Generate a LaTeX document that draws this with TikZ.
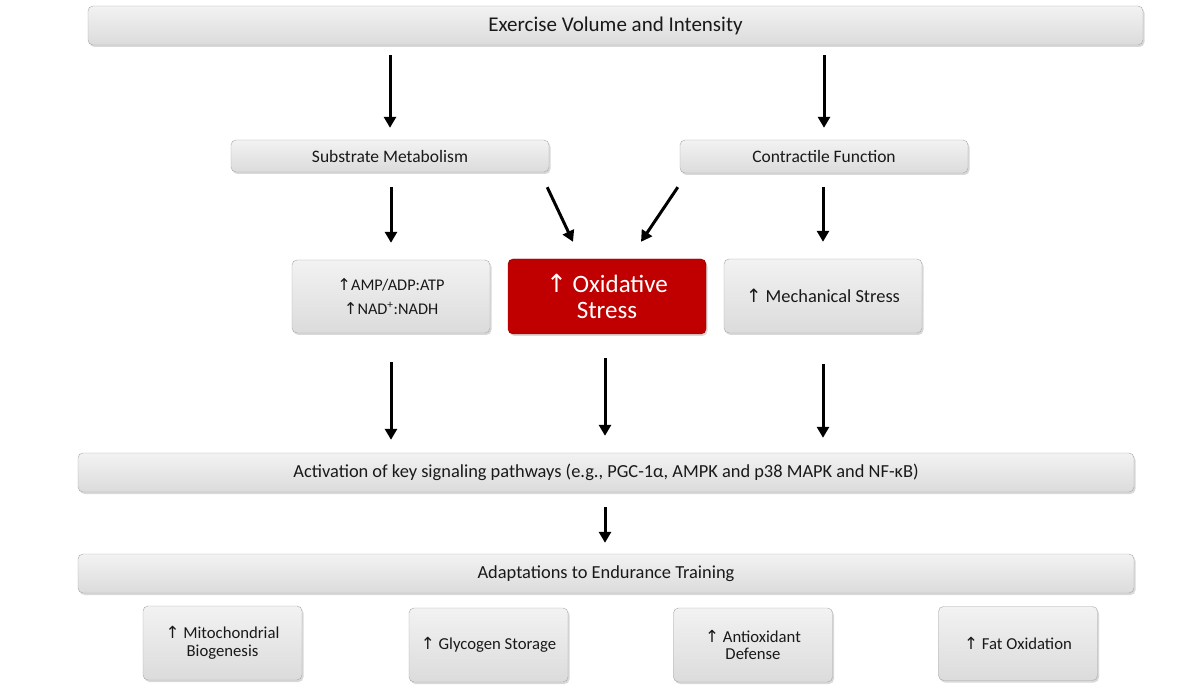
\documentclass[tikz,border=0pt]{standalone}
\usepackage{fontspec}
\setmainfont{Carlito}
\newfontfamily\arrowfont{DejaVu Sans}
\usetikzlibrary{shadows,arrows.meta,calc}
\definecolor{oxred}{RGB}{192,0,0}
\newcommand{\uparr}{{\arrowfont\char"2191}}
\begin{document}
\begin{tikzpicture}[x=1pt, y=-1pt,
    box/.style={draw=black!35, rounded corners=5pt, top color=black!5, bottom color=black!14,
      drop shadow={shadow xshift=1.5pt, shadow yshift=-2pt, opacity=0.3},
      inner sep=0pt, align=center, text=black!90, font=\fontsize{18.4}{22}\selectfont},
    redbox/.style={box, draw=oxred!70!black, top color=oxred, bottom color=oxred, text=white,
      font=\fontsize{25}{26}\selectfont},
    smallbox/.style={box, minimum width=159pt, minimum height=74pt, font=\fontsize{16.7}{17.5}\selectfont},
    arr/.style={line width=3pt, -{Triangle[width=12pt,length=11pt]}}]
    \useasboundingbox (0,0) rectangle (1202,692);

    % boxes
    \node[box, minimum width=1055pt, minimum height=39pt, font=\fontsize{21}{25}\selectfont] (top) at (615.5,25.5) {Exercise Volume and Intensity};
    \node[box, minimum width=318pt, minimum height=32pt, font=\fontsize{17.5}{21}\selectfont] (sub) at (390,156) {Substrate Metabolism};
    \node[box, minimum width=288pt, minimum height=33pt, font=\fontsize{17.5}{21}\selectfont] (con) at (824,156.5) {Contractile Function};
    \node[box, minimum width=198pt, minimum height=73pt, font=\fontsize{16.3}{24}\selectfont] (amp) at (391,296.5) {\uparr AMP/ADP:ATP\\\uparr NAD\textsuperscript{+}:NADH};
    \node[redbox, minimum width=198pt, minimum height=75pt] (ox) at (607,296.5) {\uparr\ Oxidative\\Stress};
    \node[box, minimum width=198pt, minimum height=74pt] (mech) at (823,296) {\uparr\ Mechanical Stress};
    \node[box, minimum width=1056pt, minimum height=39pt] (act) at (606,472.5) {Activation of key signaling pathways (e.g., PGC-1α, AMPK and p38 MAPK and NF-κB)};
    \node[box, minimum width=1056pt, minimum height=39pt] (adapt) at (606,573.5) {Adaptations to Endurance Training};
    \node[smallbox] (mito) at (222.5,643) {\uparr\ Mitochondrial\\Biogenesis};
    \node[smallbox] (glyc) at (488.5,645) {\uparr\ Glycogen Storage};
    \node[smallbox] (anti) at (753,645) {\uparr\ Antioxidant\\Defense};
    \node[smallbox] (fat) at (1018,643.5) {\uparr\ Fat Oxidation};

    % arrows
    \draw[arr, shorten <=10pt, shorten >=12pt] (sub.north |- top.south) -- (sub.north);
    \draw[arr, shorten <=10pt, shorten >=12pt] (con.north |- top.south) -- (con.north);
    \draw[arr, shorten <=15pt, shorten >=17pt] (sub.south -| amp.north) -- (amp.north);
    \draw[arr, shorten <=14pt, shorten >=17pt] (con.south -| mech.north) -- (mech.north);
    \coordinate (subout) at ($(sub.south east)+(-2,15)$);
    \coordinate (conout) at ($(con.south west)+(-2,14)$);
    \coordinate (oxinl) at ($(ox.north)+(-34,-17)$);
    \coordinate (oxinr) at ($(ox.north)+(34,-17)$);
    \draw[arr] (subout) -- (oxinl);
    \draw[arr] (conout) -- (oxinr);
    \draw[arr, shorten <=29pt, shorten >=13pt] (amp.south) -- (amp.south |- act.north);
    \draw[arr, shorten <=24pt, shorten >=17pt] ([xshift=-2pt]ox.south) -- ([xshift=-2pt]ox.south |- act.north);
    \draw[arr, shorten <=31pt, shorten >=15pt] (mech.south) -- (mech.south |- act.north);
    \draw[arr, shorten <=15pt, shorten >=11pt] ([xshift=-1pt]act.south) -- ([xshift=-1pt]adapt.north);
\end{tikzpicture}
\end{document}
